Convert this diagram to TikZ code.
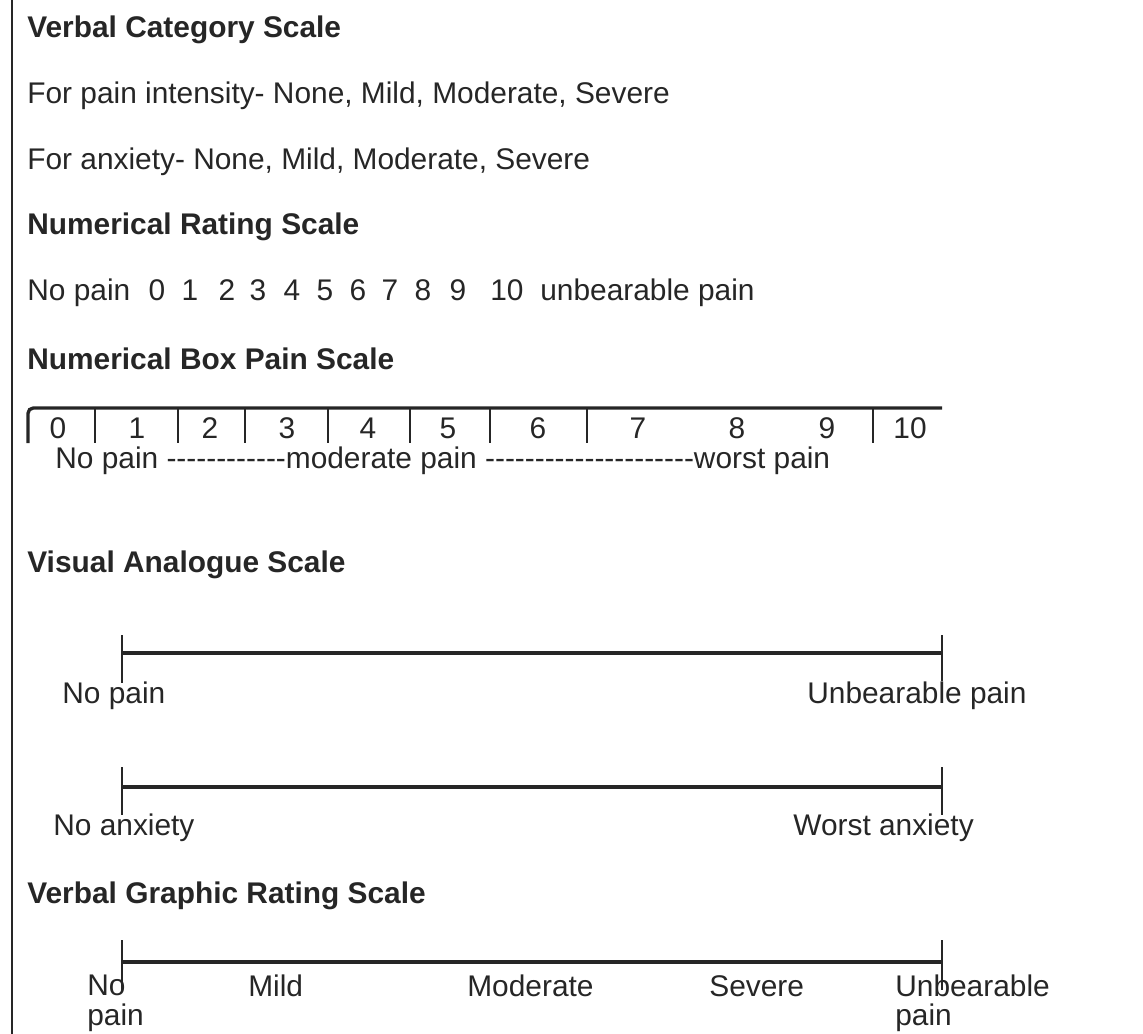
\documentclass[tikz,border=0pt]{standalone}
\usepackage{fontspec}
\setmainfont{Liberation Sans}
\definecolor{ink}{HTML}{262626}
\newcommand\hy{\mbox{-}}
\newcommand\dashrun[1]{\foreach\k in {1,...,#1}{\hy}}
\begin{document}
\begin{tikzpicture}[x=0.02cm,y=-0.02cm,
  lbl/.style={anchor=base west,inner sep=0pt,text=ink,font=\fontsize{17}{17}\selectfont},
  head/.style={lbl,font=\fontsize{17}{17}\selectfont\bfseries},
  twoline/.style={lbl,align=left,anchor=north west},
  bar/.style={draw=ink,line width=1.9pt},
  tick/.style={draw=ink,line width=1.2pt}]
\useasboundingbox (0,0) rectangle (1143,1034);
\draw[ink,line width=1pt] (12,0)--(12,1034);
% verbal category scale
\node[head] (vcs) at (27,38) {Verbal Category Scale};
\node[lbl] (vcpain) at (27,104) {For pain intensity- None, Mild, Moderate, Severe};
\node[lbl] (vcanx) at (27,170) {For anxiety- None, Mild, Moderate, Severe};
% numerical rating scale
\node[head] (nrs) at (27,235) {Numerical Rating Scale};
\node[lbl] (nrslo) at (27,300) {No pain};
\foreach \n/\x in {0/157,1/190,2/227,3/258,4/292,5/325,6/358,7/390,8/423,9/458,10/507}
  \node[lbl,anchor=base] (nrs\n) at (\x,300) {\n};
\node[lbl] (nrshi) at (540,300) {unbearable pain};
% numerical box pain scale
\node[head] (nbps) at (27,369) {Numerical Box Pain Scale};
\draw[bar,rounded corners=3] (28,443)--(28,408)--(942,408);
\foreach \x in {95,178,245,328,410,490,587,873}
  \draw[tick] (\x,408)--(\x,443);
\foreach \n/\x in {0/58,1/137,2/210,3/287,4/368,5/448,6/538,7/638,8/737,9/827,10/910}
  \node[lbl,anchor=base] (box\n) at (\x,438) {\n};
\node[lbl] (boxtxt) at (55,468) {No pain \dashrun{12}moderate pain \dashrun{21}worst pain};
% visual analogue scale
\node[head] (vas) at (27,572) {Visual Analogue Scale};
\draw[bar] (122,653)--(942,653);
\draw[tick] (122,635)--(122,683);
\draw[tick] (942,635)--(942,681);
\node[lbl] (vaslo) at (62,703) {No pain};
\node[lbl] (vashi) at (807,703) {Unbearable pain};
\draw[bar] (122,787)--(942,787);
\draw[tick] (122,767)--(122,815);
\draw[tick] (942,767)--(942,815);
\node[lbl] (anxlo) at (53,835) {No anxiety};
\node[lbl] (anxhi) at (793,835) {Worst anxiety};
% verbal graphic rating scale
\node[head] (vgrs) at (27,903) {Verbal Graphic Rating Scale};
\draw[bar] (122,962)--(942,962);
\draw[tick] (122,940)--(122,990);
\draw[tick] (942,940)--(942,990);
\node[twoline] (vglo) at (87,975) {No\\pain};
\node[lbl] (vgmild) at (248,996) {Mild};
\node[lbl] (vgmod) at (467,996) {Moderate};
\node[lbl] (vgsev) at (709,996) {Severe};
\node[twoline] (vghi) at (895,974) {Unbearable\\pain};
\end{tikzpicture}
\end{document}
